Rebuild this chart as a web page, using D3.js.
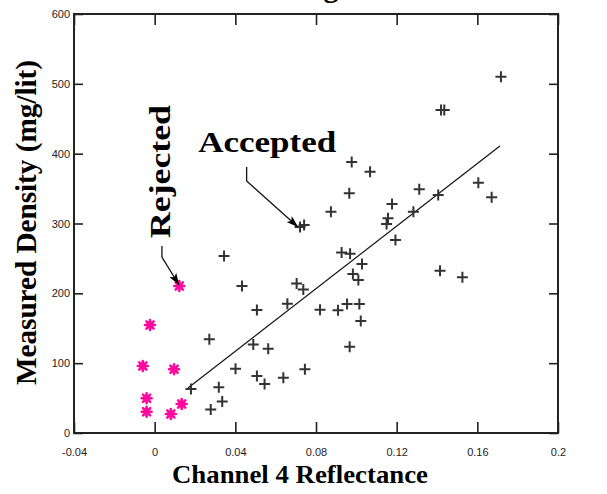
<!DOCTYPE html>
<html><head><meta charset="utf-8">
<script src="https://cdn.jsdelivr.net/npm/d3@7"></script>
<style>body{margin:0;background:#fff}svg{display:block}</style>
</head><body><svg id="chart" width="607" height="494"></svg>
<script>
// ---------- data ----------
const xTicks = [-0.04, 0, 0.04, 0.08, 0.12, 0.16, 0.2];
const xTickLabels = ["-0.04", "0", "0.04", "0.08", "0.12", "0.16", "0.2"];
const yTicks = [0, 100, 200, 300, 400, 500, 600];
const yTickLabels = ["0", "100", "200", "300", "400", "500", "600"];

const acceptedX = [0.0977, 0.1068, 0.0965, 0.0874, 0.1177, 0.1157, 0.1150, 0.1194,
  0.0721, 0.0741, 0.0344, 0.0927, 0.0969, 0.1028, 0.0983, 0.1010,
  0.0433, 0.0704, 0.0737, 0.0507, 0.0658, 0.0820, 0.0909, 0.0954,
  0.1015, 0.1022, 0.0271, 0.0489, 0.0563, 0.0967, 0.0401, 0.0507,
  0.0545, 0.0638, 0.0745, 0.0180, 0.0318, 0.0335, 0.0278, 0.1717,
  0.1420, 0.1436, 0.1605, 0.1671, 0.1312, 0.1406, 0.1283, 0.1415, 0.1526];
const acceptedY = [388.1, 374.2, 343.2, 316.9, 327.9, 307.4, 299.3, 276.4,
  295.0, 297.9, 253.5, 258.5, 256.8, 242.0, 227.7, 219.1,
  210.5, 214.1, 205.5, 176.1, 185.2, 176.6, 175.7, 184.7,
  184.7, 160.4, 134.2, 126.7, 120.6, 123.6, 91.9, 81.6,
  70.2, 79.0, 91.2, 63.0, 65.6, 45.1, 33.5, 510.2,
  462.5, 462.5, 358.4, 337.5, 349.0, 340.8, 316.9, 232.4, 223.0];

const rejectedX = [0.0122, -0.0023, -0.0059, 0.0096, -0.0040, -0.0040, 0.0080, 0.0134];
const rejectedY = [210.5, 154.7, 95.9, 91.2, 49.7, 30.5, 27.2, 41.5];

// regression line end points
const fitX = [0.0165, 0.1712];
const fitY = [64.4, 411.0];

// annotations (data coordinates)
const acceptedLabel = {text: "Accepted", x: 0.0216, y: 402.8};
const acceptedArrowX = [0.0456, 0.0456, 0.0711];
const acceptedArrowY = [380.9, 360.9, 295.0];
const rejectedLabel = {text: "Rejected", x: 0.0076, y: 279.2};
const rejectedArrowX = [0.0036, 0.0036, 0.0121];
const rejectedArrowY = [267.8, 252.0, 211.9];

const xTitle = "Channel 4 Reflectance";
const yTitle = "Measured Density (mg/lit)";

// ---------- layout ----------
const L = 74, R = 558, T = 14, B = 433;
const svg = d3.select("#chart");
const x = d3.scaleLinear().domain([-0.04, 0.2]).range([L, R]);
const y = d3.scaleLinear().domain([0, 600]).range([B, T]);

const serif = "'Liberation Serif','Times New Roman',serif";
const sans = "'Liberation Sans',Arial,sans-serif";

// cut-off title remnant at top
svg.append("text").attr("x", 331).attr("y", -3).attr("text-anchor", "middle")
  .attr("font-family", serif).attr("font-weight", "bold").attr("font-size", 30)
  .attr("fill", "#000").text("g");

// axes
const ax = g => g.call(s => s.select(".domain").remove())
  .call(s => s.selectAll(".tick line").attr("stroke", "#222").attr("stroke-width", 1.6))
  .call(s => s.selectAll("text").attr("font-family", sans).attr("font-size", 11).attr("fill", "#222"));

svg.append("g").attr("transform", `translate(0,${B})`)
  .call(d3.axisBottom(x).tickValues(xTicks).tickFormat((d, i) => xTickLabels[i])
    .tickSizeInner(-11).tickSizeOuter(0).tickPadding(15)).call(ax);
svg.append("g").attr("transform", `translate(0,${T})`)
  .call(d3.axisTop(x).tickValues(xTicks).tickFormat("")
    .tickSizeInner(-11).tickSizeOuter(0)).call(ax);
svg.append("g").attr("transform", `translate(${L},0)`)
  .call(d3.axisLeft(y).tickValues(yTicks).tickFormat((d, i) => yTickLabels[i])
    .tickSizeInner(-9).tickSizeOuter(0).tickPadding(4)).call(ax);
svg.append("g").attr("transform", `translate(${R},0)`)
  .call(d3.axisRight(y).tickValues(yTicks).tickFormat("")
    .tickSizeInner(-9).tickSizeOuter(0)).call(ax);

svg.append("rect").attr("x", L).attr("y", T).attr("width", R - L).attr("height", B - T)
  .attr("fill", "none").attr("stroke", "#222").attr("stroke-width", 2);

// regression line
svg.append("path").datum(fitX.map((v, i) => [v, fitY[i]]))
  .attr("d", d3.line().x(d => x(d[0])).y(d => y(d[1])))
  .attr("fill", "none").attr("stroke", "#111").attr("stroke-width", 1.2);

// accepted points (+)
svg.append("g").selectAll("path").data(acceptedX.map((v, i) => [v, acceptedY[i]])).join("path")
  .attr("transform", d => `translate(${x(d[0])},${y(d[1])})`)
  .attr("d", "M-5.5,0H5.5M0,-5.5V5.5")
  .attr("stroke", "#333").attr("stroke-width", 2).attr("fill", "none");

// rejected points (pink asterisks)
const rej = svg.append("g").selectAll("g").data(rejectedX.map((v, i) => [v, rejectedY[i]])).join("g")
  .attr("transform", d => `translate(${x(d[0])},${y(d[1])})`);
rej.append("circle").attr("r", 3.6).attr("fill", "#ff0a9e");
rej.append("path").attr("d", "M-5,0H5M0,-5V5M-3.6,-3.6L3.6,3.6M-3.6,3.6L3.6,-3.6")
  .attr("stroke", "#ff0a9e").attr("stroke-width", 2.6).attr("stroke-linecap", "round");

// arrow marker
svg.append("defs").append("marker").attr("id", "ah").attr("viewBox", "0 0 12 8")
  .attr("refX", 12).attr("refY", 4).attr("markerWidth", 13).attr("markerHeight", 8)
  .attr("markerUnits", "userSpaceOnUse").attr("orient", "auto")
  .append("path").attr("d", "M0,0L12,4L0,8L3,4Z").attr("fill", "#000");

const arrowLine = d3.line().x(d => x(d[0])).y(d => y(d[1]));
svg.append("path").datum(acceptedArrowX.map((v, i) => [v, acceptedArrowY[i]]))
  .attr("d", arrowLine).attr("fill", "none").attr("stroke", "#111").attr("stroke-width", 1.3)
  .attr("marker-end", "url(#ah)");
svg.append("path").datum(rejectedArrowX.map((v, i) => [v, rejectedArrowY[i]]))
  .attr("d", arrowLine).attr("fill", "none").attr("stroke", "#111").attr("stroke-width", 1.3)
  .attr("marker-end", "url(#ah)");

// annotation labels
svg.append("text").attr("x", x(acceptedLabel.x)).attr("y", y(acceptedLabel.y))
  .attr("font-family", serif).attr("font-weight", "bold").attr("font-size", 30)
  .attr("textLength", 138).attr("lengthAdjust", "spacingAndGlyphs").text(acceptedLabel.text);
svg.append("text")
  .attr("transform", `translate(${x(rejectedLabel.x)},${y(rejectedLabel.y)}) rotate(-90)`)
  .attr("font-family", serif).attr("font-weight", "bold").attr("font-size", 30)
  .attr("textLength", 133).attr("lengthAdjust", "spacingAndGlyphs").text(rejectedLabel.text);

// axis titles
svg.append("text").attr("x", 300).attr("y", 483).attr("text-anchor", "middle")
  .attr("font-family", serif).attr("font-weight", "bold").attr("font-size", 26)
  .attr("textLength", 256).attr("lengthAdjust", "spacingAndGlyphs").text(xTitle);
svg.append("text").attr("transform", "translate(35.5,222.5) rotate(-90)").attr("text-anchor", "middle")
  .attr("font-family", serif).attr("font-weight", "bold").attr("font-size", 29)
  .attr("textLength", 325).attr("lengthAdjust", "spacingAndGlyphs").text(yTitle);
</script>
</body></html>
